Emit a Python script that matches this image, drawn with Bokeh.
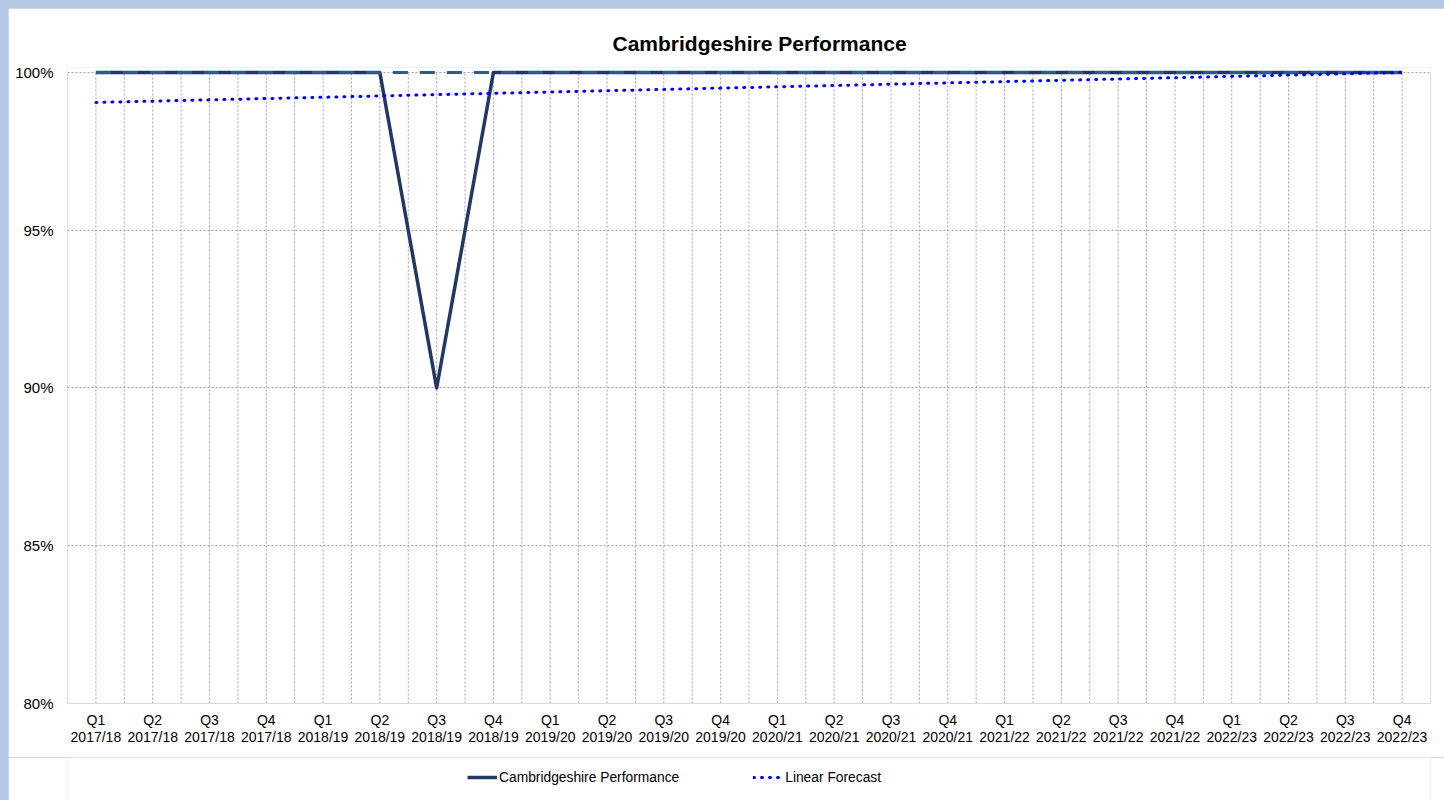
from bokeh.plotting import figure
from bokeh.layouts import column
from bokeh.models import FixedTicker, Legend, LegendItem, Range1d, PrintfTickFormatter
from bokeh.embed import file_html
from bokeh.resources import INLINE

quarters = ["Q1", "Q2", "Q3", "Q4"] * 6
years = ["2017/18"] * 4 + ["2018/19"] * 4 + ["2019/20"] * 4 + ["2020/21"] * 4 + ["2021/22"] * 4 + ["2022/23"] * 4
performance = [100, 100, 100, 100, 100, 100, 90, 100, 100, 100, 100, 100,
               100, 100, 100, 100, 100, 100, 100, 100, 100, 100, 100, 100]
target = [100] * 24
forecast_pos = [0, 23]
forecast = [99.05, 100.0]
y_ticks = [80, 85, 90, 95, 100]

FONT = "Liberation Sans"
n = len(quarters)
xs = list(range(n))
labels = {i: f"{q}\n{y}" for i, (q, y) in enumerate(zip(quarters, years))}
y_min, y_max = y_ticks[0], y_ticks[-1]

MAIN_STYLE = dict(line_color="#1F3864", line_width=3.5, line_join="round")
TARGET_STYLE = dict(line_color="#2E5B86", line_width=3, line_dash="15 12")
FC_STYLE = dict(line_color="#0000FF", line_width=3, line_dash="1 7", line_cap="round")

p = figure(width=1436, height=749, output_backend="svg", toolbar_location=None,
           x_range=Range1d(-0.5, n - 0.5), y_range=Range1d(y_min, y_max + 0.158),
           min_border_left=59, min_border_right=14, min_border_top=59, min_border_bottom=54)
p.outline_line_color = None
p.background_fill_color = "white"
p.border_fill_color = "white"

p.title.text = "Cambridgeshire Performance"
p.title.text_font = FONT
p.title.text_font_size = "21px"
p.title.text_font_style = "bold"
p.title.text_color = "black"
p.title.align = "left"
p.title.offset = 545
p.title.standoff = 26

# grids
p.xgrid.visible = False
grid_x = [i * 0.5 - 0.5 for i in range(2 * n + 1)]
p.segment(x0=grid_x, y0=[y_min] * len(grid_x), x1=grid_x, y1=[y_max] * len(grid_x),
          line_color="#A0A0A0", line_width=1, line_dash="2 2")
p.ygrid.ticker = FixedTicker(ticks=y_ticks[1:])
p.ygrid.grid_line_color = "#A0A0A0"
p.ygrid.grid_line_dash = "2 2"

# axes
p.xaxis.ticker = FixedTicker(ticks=xs)
p.xaxis.major_label_overrides = labels
p.xaxis.axis_line_color = "#D9D9D9"
p.xaxis.major_tick_line_color = None
p.xaxis.minor_tick_line_color = None
p.xaxis.major_tick_out = 0
p.xaxis.major_label_standoff = 8
p.xaxis.major_label_text_font = FONT
p.xaxis.major_label_text_font_size = "14px"
p.xaxis.major_label_text_color = "black"
p.xaxis.major_label_text_line_height = 1.1

p.yaxis.ticker = FixedTicker(ticks=y_ticks)
p.yaxis.formatter = PrintfTickFormatter(format="%d%%")
p.yaxis.axis_line_color = None
p.yaxis.major_tick_line_color = None
p.yaxis.minor_tick_line_color = None
p.yaxis.major_tick_out = 0
p.yaxis.major_label_standoff = 14
p.yaxis.major_label_text_font = FONT
p.yaxis.major_label_text_font_size = "15px"
p.yaxis.major_label_text_color = "black"

p.line(xs, performance, **MAIN_STYLE)
p.line(xs, target, **TARGET_STYLE)
p.line(forecast_pos, forecast, **FC_STYLE)

# legend strip below the chart (its renderers sit outside its visible range)
lg = figure(width=1436, height=43, output_backend="svg", toolbar_location=None,
            x_axis_type=None, y_axis_type=None, min_border=0,
            x_range=Range1d(0, 1), y_range=Range1d(0, 1))
lg.outline_line_color = None
lg.grid.visible = False
lg.background_fill_color = "white"
lg.border_fill_color = "white"
r_main = lg.line([5, 6], [5, 5], **MAIN_STYLE)
r_fc = lg.line([5, 6], [5, 5], **FC_STYLE)
legend = Legend(items=[LegendItem(label="Cambridgeshire Performance", renderers=[r_main]),
                       LegendItem(label="Linear Forecast", renderers=[r_fc])],
                location=(400, 13), orientation="horizontal",
                spacing=74, glyph_width=30, glyph_height=20, label_standoff=2,
                padding=0, margin=0, border_line_color=None, background_fill_alpha=0,
                label_text_font=FONT, label_text_font_size="13.8px", label_text_color="black")
lg.add_layout(legend, "center")

layout = column(p, lg, spacing=0)
html = file_html(layout, INLINE)
css = ("<style>html, body {background:#B4C7E7 !important;} "
       "body {padding: 8px 0 0 8px !important; box-sizing: border-box;}</style></head>")
html = html.replace("</head>", css, 1)
open("out.html", "w").write(html)
